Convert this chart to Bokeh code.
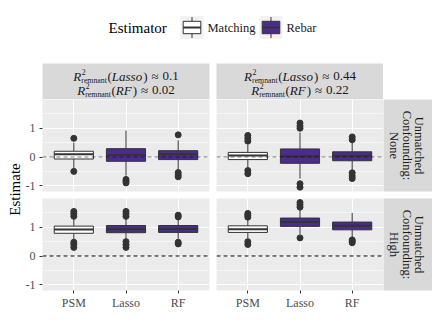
from bokeh.plotting import figure
from bokeh.layouts import row, column
from bokeh.models import (FactorRange, Range1d, FixedTicker, Span, ColumnDataSource,
                          LinearAxis, CategoricalAxis, PrintfTickFormatter)
from bokeh.embed import file_html
from bokeh.resources import INLINE
from bokeh.core.properties import value

FONT = "Liberation Serif"
MATCH_FILL = "#FFFFFF"
REBAR_FILL = "#4B2C8C"
LINE = "#333333"

# ---------------- data ----------------
methods = ["PSM", "Lasso", "RF"]
estimators = ["Matching", "Rebar", "Rebar"]
confounding = ["None", "High"]
r2_lasso = ["0.1", "0.44"]
r2_rf = ["0.02", "0.22"]
y_ticks = [-1, 0, 1]

# Unmatched confounding: None, R2 lasso 0.1 / rf 0.02
none_a_lower = [-0.38, -0.65, -0.45]
none_a_q1 = [-0.07, -0.15, -0.09]
none_a_median = [0.10, 0.07, 0.10]
none_a_q3 = [0.20, 0.29, 0.22]
none_a_upper = [0.50, 0.92, 0.58]
none_a_out_m = ["PSM", "PSM", "Lasso", "Lasso", "Lasso", "RF", "RF", "RF", "RF"]
none_a_out_v = [0.65, -0.50, -0.78, -0.84, -0.90, 0.77, -0.54, -0.62, -0.69]

# Unmatched confounding: None, R2 lasso 0.44 / rf 0.22
none_b_lower = [-0.35, -0.75, -0.45]
none_b_q1 = [-0.09, -0.22, -0.13]
none_b_median = [0.05, 0.03, 0.04]
none_b_q3 = [0.16, 0.28, 0.18]
none_b_upper = [0.42, 0.85, 0.50]
none_b_out_m = ["PSM", "PSM", "PSM", "PSM", "PSM", "Lasso", "Lasso", "Lasso", "Lasso", "Lasso",
                "RF", "RF", "RF", "RF", "RF"]
none_b_out_v = [0.55, 0.65, 0.75, -0.47, -0.58, 1.00, 1.08, 1.18, -0.93, -1.05,
                0.60, 0.70, -0.55, -0.66, -0.75]

# Unmatched confounding: High, R2 lasso 0.1 / rf 0.02
high_a_lower = [0.58, 0.60, 0.60]
high_a_q1 = [0.79, 0.81, 0.82]
high_a_median = [0.92, 0.93, 0.94]
high_a_q3 = [1.04, 1.06, 1.06]
high_a_upper = [1.28, 1.30, 1.28]
high_a_out_m = ["PSM"] * 6 + ["Lasso"] * 6 + ["RF"] * 4
high_a_out_v = [1.38, 1.47, 1.55, 0.30, 0.40, 0.48,
                1.38, 1.47, 1.55, 0.30, 0.40, 0.50,
                1.36, 1.42, 0.42, 0.48]

# Unmatched confounding: High, R2 lasso 0.44 / rf 0.22
high_b_lower = [0.62, 0.75, 0.65]
high_b_q1 = [0.82, 1.03, 0.91]
high_b_median = [0.93, 1.18, 1.05]
high_b_q3 = [1.05, 1.32, 1.18]
high_b_upper = [1.25, 1.60, 1.50]
high_b_out_m = ["PSM"] * 5 + ["Lasso"] * 4 + ["RF"] * 3
high_b_out_v = [1.35, 1.42, 1.48, 0.40, 0.50,
                1.70, 1.78, 1.86, 0.63,
                0.46, 0.52, 0.56]

# ---------------- helpers ----------------
TNR = {'R': 667, '2': 500, 'r': 333, 'e': 444, 'm': 778, 'n': 500, 'a': 444, 't': 278,
       '(': 333, ')': 333, ' ': 250, '≈': 549, '0': 500, '.': 250, '1': 500, '4': 500}
TNRI = {'R': 611, 'L': 556, 'a': 500, 's': 389, 'o': 500, 'F': 611}


def tw(s, size, italic=False):
    tbl = TNRI if italic else TNR
    return sum(tbl.get(c, 500) for c in s) * size / 1000.0


def txt(p, x, y, s, size, style="normal", align="left", baseline="middle",
        angle=0.0, color="#1A1A1A"):
    p.text(x=[x], y=[y], text=[s], text_font=value(FONT),
           text_font_size=value(f"{size}px"), text_font_style=value(style),
           text_align=value(align), text_baseline=value(baseline),
           angle=angle, text_color=color)


def blank(w, h, bg="white", **borders):
    kw = dict(min_border_left=0, min_border_right=0, min_border_top=0, min_border_bottom=0)
    kw.update(borders)
    fw = w - kw["min_border_left"] - kw["min_border_right"]
    fh = h - kw["min_border_top"] - kw["min_border_bottom"]
    p = figure(width=w, height=h, x_range=Range1d(0, fw), y_range=Range1d(fh, 0),
               x_axis_location=None, y_axis_location=None, toolbar_location=None,
               output_backend="svg", background_fill_color=bg, border_fill_color="white",
               outline_line_color=None, **kw)
    p.grid.visible = False
    return p


S_MAIN = 13
S_SCRIPT = 7.8
MID = 0.33  # distance of the em-box middle above the baseline, in em


def r2_line(p, cx, base, model, val):
    pieces = []
    x = 0.0
    wR = tw("R", S_MAIN, True)
    pieces.append(("R", S_MAIN, "italic", x, 0))
    pieces.append(("2", S_SCRIPT, "normal", x + wR + 0.6, -6.0))
    pieces.append(("remnant", S_SCRIPT, "normal", x + wR + 0.2, 2.6))
    x += wR + 0.2 + tw("remnant", S_SCRIPT) + 0.6
    pieces.append(("(", S_MAIN, "normal", x, 0)); x += tw("(", S_MAIN)
    pieces.append((model, S_MAIN, "italic", x, 0)); x += tw(model, S_MAIN, True) + 1.0
    pieces.append((")", S_MAIN, "normal", x, 0)); x += tw(")", S_MAIN) + 4.0
    pieces.append(("≈", S_MAIN, "normal", x, 0)); x += tw("≈", S_MAIN) + 4.0
    pieces.append((val, S_MAIN, "normal", x, 0)); x += tw(val, S_MAIN)
    x0 = cx - x / 2.0
    for t, sz, st, dx, dy in pieces:
        txt(p, x0 + dx, base + dy - MID * sz, t, sz, st)


def style_axis(ax, standoff):
    ax.axis_line_color = None
    ax.major_tick_in = 0
    ax.major_tick_out = 3
    ax.minor_tick_line_color = None
    ax.major_tick_line_color = LINE
    ax.major_label_text_color = "#4D4D4D"
    ax.major_label_text_font = FONT
    ax.major_label_text_font_size = "12px"
    ax.major_label_standoff = standoff


FW, FH = 167, 92


def panel(lower, q1, med, q3, upper, out_m, out_v, left_axis, bottom_axis, top_row):
    mbl = 20 if left_axis else 0
    mbr = 7 if left_axis else 0
    mbb = 24 if bottom_axis else 7
    p = figure(width=mbl + FW + mbr, height=FH + mbb,
               x_range=FactorRange(factors=methods, range_padding=0.2 / 3),
               y_range=Range1d(-1.2, 2.0), x_axis_location=None, y_axis_location=None,
               toolbar_location=None, output_backend="svg",
               min_border_left=mbl, min_border_right=mbr, min_border_top=0,
               min_border_bottom=mbb, background_fill_color="#EBEBEB",
               border_fill_color="white", outline_line_color=None)
    p.ygrid.ticker = FixedTicker(ticks=y_ticks, minor_ticks=[-0.5, 0.5, 1.5])
    p.ygrid.grid_line_color = "white"
    p.ygrid.grid_line_width = 1.1
    p.ygrid.minor_grid_line_color = "white"
    p.ygrid.minor_grid_line_width = 0.5
    p.xgrid.grid_line_color = "white"
    p.xgrid.grid_line_width = 1.1

    fills = [MATCH_FILL if e == "Matching" else REBAR_FILL for e in estimators]
    src = ColumnDataSource(dict(m=methods, lower=lower, q1=q1, med=med, q3=q3,
                                upper=upper, fill=fills))
    p.segment(x0="m", y0="q3", x1="m", y1="upper", source=src, line_color=LINE, line_width=1)
    p.segment(x0="m", y0="q1", x1="m", y1="lower", source=src, line_color=LINE, line_width=1)
    p.vbar(x="m", bottom="q1", top="q3", width=0.75, fill_color="fill",
           line_color=LINE, line_width=1, source=src)
    p.vbar(x="m", bottom="med", top="med", width=0.75, fill_color=None,
           line_color=LINE, line_width=2, source=src)
    p.scatter(x=out_m, y=out_v, size=6, color=LINE)

    p.add_layout(Span(location=0, dimension="width", line_color="black",
                      line_dash="4 3", line_width=1.1,
                      line_alpha=0.5 if top_row else 1.0))

    if left_axis:
        ax = LinearAxis(ticker=FixedTicker(ticks=y_ticks),
                        formatter=PrintfTickFormatter(format="%d"))
        style_axis(ax, 4)
        p.add_layout(ax, "left")
    if bottom_axis:
        ax = CategoricalAxis()
        style_axis(ax, 2)
        p.add_layout(ax, "below")
    return p


# ---------------- legend ----------------
leg = blank(432, 63)
txt(leg, 108, 27, "Estimator", 15, color="black")
for cx, fill, lab, lx in [(191.5, MATCH_FILL, "Matching", 207), (270.5, REBAR_FILL, "Rebar", 286)]:
    leg.quad(left=[cx - 11.5], right=[cx + 11.5], top=[15.5], bottom=[38.5],
             fill_color="#F2F2F2", line_color=None)
    leg.segment(x0=[cx, cx], y0=[16.5, 33.2], x1=[cx, cx], y1=[20.8, 37.5],
                line_color=LINE, line_width=1)
    leg.quad(left=[cx - 8.8], right=[cx + 8.8], top=[20.8], bottom=[33.2],
             fill_color=fill, line_color=LINE, line_width=1)
    leg.segment(x0=[cx - 8.8], y0=[27], x1=[cx + 8.8], y1=[27], line_color=LINE, line_width=2)
    txt(leg, lx, 27, lab, 12.5, color="#1A1A1A")

# ---------------- top strips ----------------
strip_l = blank(194, 36, bg="#D9D9D9", min_border_left=20, min_border_right=7)
strip_r = blank(167, 36, bg="#D9D9D9")
for p, vl, vr in [(strip_l, r2_lasso[0], r2_rf[0]), (strip_r, r2_lasso[1], r2_rf[1])]:
    r2_line(p, FW / 2.0, 17.0, "Lasso", vl)
    r2_line(p, FW / 2.0, 31.0, "RF", vr)

# ---------------- right strips ----------------
def side_strip(border_bottom, label):
    p = blank(49, FH + border_bottom, bg="#D9D9D9", min_border_bottom=border_bottom)
    for xx, s in zip([35.5, 23.0, 10.5], ["Unmatched", "Confounding:", label]):
        txt(p, xx, FH / 2.0, s, 12.5, align="center", angle=-1.5707963)
    return p


side_top = side_strip(7, confounding[0])
side_bot = side_strip(24, confounding[1])

# ---------------- panels ----------------
p_tl = panel(none_a_lower, none_a_q1, none_a_median, none_a_q3, none_a_upper,
             none_a_out_m, none_a_out_v, True, False, True)
p_tr = panel(none_b_lower, none_b_q1, none_b_median, none_b_q3, none_b_upper,
             none_b_out_m, none_b_out_v, False, False, True)
p_bl = panel(high_a_lower, high_a_q1, high_a_median, high_a_q3, high_a_upper,
             high_a_out_m, high_a_out_v, True, True, False)
p_br = panel(high_b_lower, high_b_q1, high_b_median, high_b_q3, high_b_upper,
             high_b_out_m, high_b_out_v, False, True, False)

# ---------------- y label ----------------
ylab = blank(22, 36 + 99 + 116)
txt(ylab, 14, 126, "Estimate", 15, align="center", angle=1.5707963, color="black")

grid = column(row(strip_l, strip_r),
              row(p_tl, p_tr, side_top),
              row(p_bl, p_br, side_bot))
layout = column(leg, row(ylab, grid))

open("out.html", "w").write(file_html(layout, INLINE))
